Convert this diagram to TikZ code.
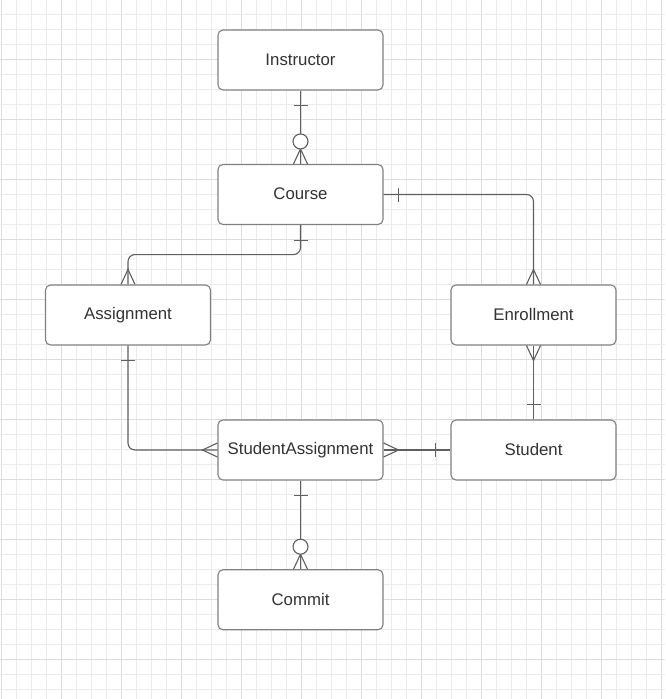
\documentclass[tikz,border=0pt]{standalone}
\usepackage{fontspec}
\setmainfont{Liberation Sans}
\usetikzlibrary{calc}
\definecolor{gminor}{HTML}{EBEBEB}
\definecolor{gmajor}{HTML}{DCDCDC}
\definecolor{boxline}{HTML}{808080}
\definecolor{conline}{HTML}{5F5F5F}
\definecolor{txt}{HTML}{333333}
\begin{document}
\begin{tikzpicture}[x=1pt,y=-1pt,
  entity/.style={draw=boxline, line width=1.1pt, fill=white, rounded corners=5pt,
    minimum width=165pt, minimum height=60pt, inner sep=0pt,
    text=txt, font=\fontsize{16.8}{20}\selectfont},
  conn/.style={draw=conline, line width=1.1pt},
  minorl/.style={draw=gminor, line width=1pt},
  majorl/.style={draw=gmajor, line width=1.1pt}]
\useasboundingbox (0,0) rectangle (665,699);
\fill[white] (0,0) rectangle (665,699);
% grid
\foreach \i in {0,...,44} {
  \pgfmathsetmacro{\xx}{1.3+15*\i}
  \pgfmathtruncatemacro{\m}{mod(\i,4)}
  \ifnum\m=0 \draw[majorl] (\xx,0) -- (\xx,699); \else \draw[minorl] (\xx,0) -- (\xx,699); \fi
}
\foreach \i in {1,...,46} {
  \pgfmathsetmacro{\yy}{-0.7+15*\i}
  \pgfmathtruncatemacro{\m}{mod(\i,4)}
  \ifnum\m=0 \draw[majorl] (0,\yy) -- (665,\yy); \else \draw[minorl] (0,\yy) -- (665,\yy); \fi
}
% entities
\node[entity] (inst) at (300.5,60) {\raisebox{1.5pt}{Instructor}};
\node[entity] (course) at (300.5,194.5) {\raisebox{1.5pt}{Course}};
\node[entity] (assign) at (128,315) {\raisebox{1.5pt}{Assignment}};
\node[entity] (enroll) at (533.5,315) {\raisebox{1.5pt}{Enrollment}};
\node[entity] (sa) at (300.5,450) {\raisebox{1.5pt}{StudentAssignment}};
\node[entity] (student) at (533.5,450) {\raisebox{1.5pt}{Student}};
\node[entity] (commit) at (300.5,599.75) {\raisebox{1.5pt}{Commit}};
% Instructor - Course
\draw[conn] (inst.south) -- (course.north);
\draw[conn] ($(inst.south)+(-7,15)$) -- ++(14,0);
\draw[conn] ($(course.north)+(-7,0)$) -- ($(course.north)+(0,-15)$) -- ($(course.north)+(7,0)$);
\draw[conn, fill=white] ($(course.north)+(0,-22.5)$) circle (7.5pt);
% Course - Assignment
\draw[conn, rounded corners=7pt] (course.south) -- ++(0,29.5) -| (assign.north);
\draw[conn] ($(course.south)+(-7,15)$) -- ++(14,0);
\draw[conn] ($(assign.north)+(-7,0)$) -- ($(assign.north)+(0,-15)$) -- ($(assign.north)+(7,0)$);
% Course - Enrollment
\draw[conn, rounded corners=7pt] (course.east) -| (enroll.north);
\draw[conn] ($(course.east)+(15,-7)$) -- ++(0,14);
\draw[conn] ($(enroll.north)+(-7,0)$) -- ($(enroll.north)+(0,-15)$) -- ($(enroll.north)+(7,0)$);
% Enrollment - Student
\draw[conn] (enroll.south) -- (student.north);
\draw[conn] ($(enroll.south)+(-7,0)$) -- ($(enroll.south)+(0,15)$) -- ($(enroll.south)+(7,0)$);
\draw[conn] ($(student.north)+(-7,-15)$) -- ++(14,0);
% Assignment - StudentAssignment
\draw[conn, rounded corners=7pt] (assign.south) |- (sa.west);
\draw[conn] ($(assign.south)+(-7,15)$) -- ++(14,0);
\draw[conn] ($(sa.west)+(0,-7)$) -- ($(sa.west)+(-15,0)$) -- ($(sa.west)+(0,7)$);
% StudentAssignment - Student
\draw[conn] (sa.east) -- (student.west);
\draw[conn] ($(sa.east)+(0,-7)$) -- ($(sa.east)+(15,0)$) -- ($(sa.east)+(0,7)$);
\draw[conn] ($(student.west)+(-15,-7)$) -- ++(0,14);
% StudentAssignment - Commit
\draw[conn] (sa.south) -- (commit.north);
\draw[conn] ($(sa.south)+(-7,15)$) -- ++(14,0);
\draw[conn] ($(commit.north)+(-7,0)$) -- ($(commit.north)+(0,-15)$) -- ($(commit.north)+(7,0)$);
\draw[conn, fill=white] ($(commit.north)+(0,-22.5)$) circle (7.5pt);
\end{tikzpicture}
\end{document}
